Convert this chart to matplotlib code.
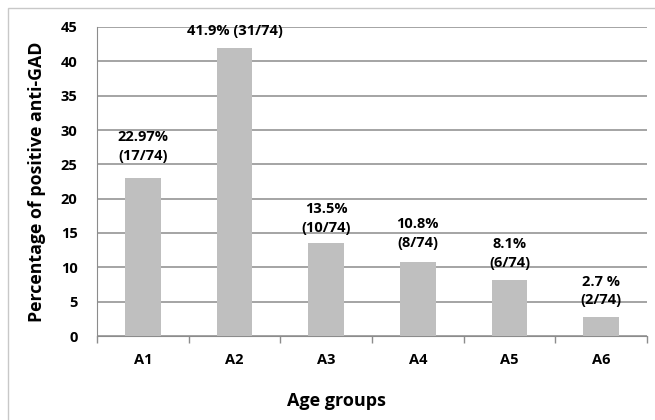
import matplotlib
matplotlib.use("Agg")
import matplotlib.pyplot as plt
from matplotlib.patches import Rectangle

# Data
groups = ["A1", "A2", "A3", "A4", "A5", "A6"]
percent = [22.97, 41.9, 13.5, 10.8, 8.1, 2.7]
labels = ["22.97%\n(17/74)", "41.9% (31/74)", "13.5%\n(10/74)",
          "10.8%\n(8/74)", "8.1%\n(6/74)", "2.7 %\n(2/74)"]
label_gap_px = [15, 10, 8, 12, 10, 10]

plt.rcParams['font.family'] = ['Open Sans', 'DejaVu Sans']
plt.rcParams['font.weight'] = 'bold'

fig = plt.figure(figsize=(6.55, 4.2), dpi=100)
ax = fig.add_axes([97/655, (420-336)/420, (647-97)/655, (336-27)/420])

x = list(range(len(groups)))
ax.bar(x, percent, width=0.39, color="#bfbfbf", zorder=3)

ax.set_ylim(0, 45)
ax.set_xlim(-0.5, len(groups) - 0.5)
ax.set_yticks(range(0, 50, 5))
ax.yaxis.grid(True, color="#8c8c8c", linewidth=1.1, zorder=0)
ax.set_axisbelow(True)

for s in ["top", "right"]:
    ax.spines[s].set_visible(False)
ax.spines["left"].set_color("#8c8c8c")
ax.spines["bottom"].set_color("#8c8c8c")

ax.set_xticks([i - 0.5 for i in range(len(groups) + 1)], minor=False)
ax.set_xticklabels([])
ax.set_xticks(x, minor=True)
ax.set_xticklabels(groups, minor=True, fontsize=10.5, fontweight='bold')
ax.tick_params(axis='x', which='major', length=5, color="#8c8c8c", width=1)
ax.tick_params(axis='x', which='minor', length=0, pad=12)
ax.tick_params(axis='y', length=0, pad=14, labelsize=10.5)
for t in ax.get_yticklabels():
    t.set_fontweight('bold')

ax.set_xlabel("Age groups", fontsize=13, fontweight='bold', labelpad=13)
ax.xaxis.set_label_coords(0.436, -0.18)
ax.set_ylabel("Percentage of positive anti-GAD", fontsize=12.8, fontweight='bold', labelpad=11)

for xi, v, lab, gap in zip(x, percent, labels, label_gap_px):
    ax.annotate(lab, xy=(xi, v), xytext=(0, gap * 0.72), textcoords='offset points',
                ha='center', va='bottom', fontsize=10.5, fontweight='bold',
                linespacing=1.45, zorder=5)

# outer chart frame
fig.patches.append(Rectangle((8/655, -0.1), 1.0, (420-8)/420 + 0.1,
                             transform=fig.transFigure, fill=False,
                             edgecolor="#c8c8c8", linewidth=1.0))

fig.savefig("out.png", dpi=100)
